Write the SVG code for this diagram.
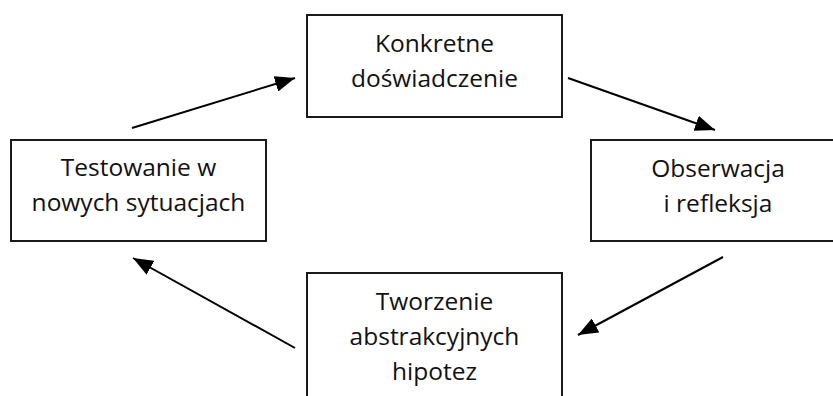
<svg xmlns="http://www.w3.org/2000/svg" width="833" height="396" viewBox="0 0 833 396">
<style>
.box{fill:#fff;stroke:#1a1a1a;stroke-width:2}
.t{font-family:"Open Sans","Noto Sans",sans-serif;font-size:24.5px;fill:#111;text-anchor:middle}
.c{stroke:#000;stroke-width:2;fill:none;marker-end:url(#ah)}
</style>
<defs>
<marker id="ah" viewBox="0 0 10 10" refX="10" refY="5" markerWidth="20" markerHeight="16" markerUnits="userSpaceOnUse" orient="auto" preserveAspectRatio="none">
<path d="M0,0 L10,5 L0,10 Z" fill="#000"/>
</marker>
</defs>
<rect width="833" height="396" fill="#fff"/>
<g id="connectors">
<line class="c" x1="132" y1="128" x2="295" y2="78"/>
<line class="c" x1="568" y1="78" x2="715" y2="130"/>
<line class="c" x1="723" y1="257" x2="578" y2="335"/>
<line class="c" x1="295" y1="348" x2="133" y2="258"/>
</g>
<g id="node-konkretne">
<rect class="box" x="307" y="15" width="255" height="102"/>
<text class="t" x="434.5" y="52">Konkretne</text>
<text class="t" x="434.5" y="87">doświadczenie</text>
</g>
<g id="node-obserwacja">
<rect class="box" x="591" y="140" width="254" height="101"/>
<text class="t" x="718" y="177">Obserwacja</text>
<text class="t" x="718" y="212">i refleksja</text>
</g>
<g id="node-tworzenie">
<rect class="box" x="307" y="273" width="255" height="140"/>
<text class="t" x="434.5" y="310">Tworzenie</text>
<text class="t" x="434.5" y="345">abstrakcyjnych</text>
<text class="t" x="434.5" y="380">hipotez</text>
</g>
<g id="node-testowanie">
<rect class="box" x="11" y="140" width="255" height="101"/>
<text class="t" x="138.5" y="176">Testowanie w</text>
<text class="t" x="138.5" y="211">nowych sytuacjach</text>
</g>
</svg>
